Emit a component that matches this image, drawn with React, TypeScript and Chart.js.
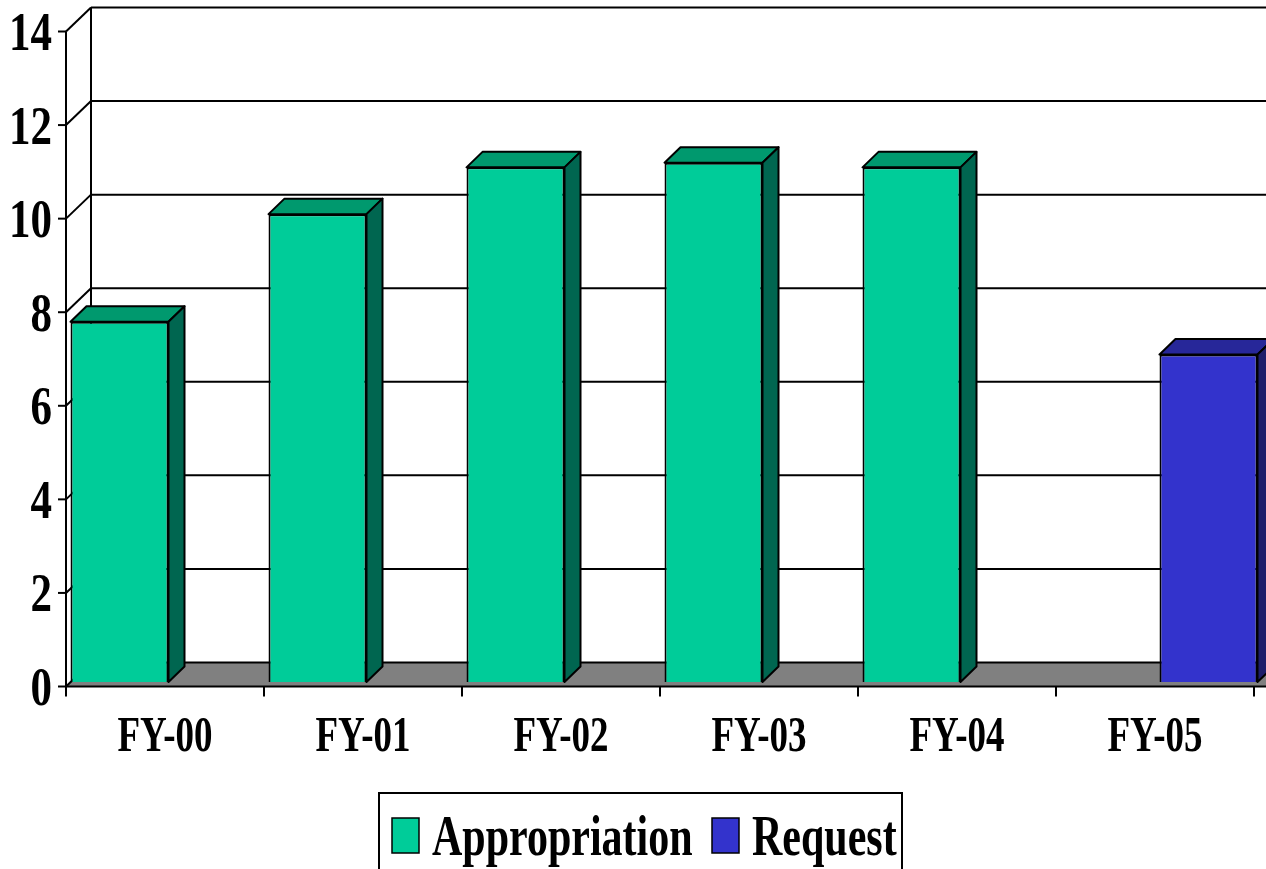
import React, { useEffect, useRef } from "react";
import { Chart, registerables } from "chart.js";

Chart.register(...registerables);

const categories = ["FY-00", "FY-01", "FY-02", "FY-03", "FY-04", "FY-05"];
const appropriation = [7.7, 10, 11, 11.1, 11, null];
const request = [null, null, null, null, null, 7];
const yTicks = [0, 2, 4, 6, 8, 10, 12, 14];

const FONT = '"Liberation Serif", "Times New Roman", serif';
const WALL_DX = 25;
const WALL_DY = -24;
const BAR_SHIFT_X = 4;
const BAR_SHIFT_Y = -4.5;
const BAR_DX = 16;
const BAR_DY = -15.5;

const faceColors: Record<number, { top: string; side: string }> = {
  0: { top: "#00996E", side: "#006650" },
  1: { top: "#272799", side: "#1E1E6A" },
};

function stretchText(ctx: CanvasRenderingContext2D, text: string, x: number, baseline: number, size: number, sy: number, align: CanvasTextAlign) {
  ctx.save();
  ctx.translate(x, baseline);
  ctx.scale(1, sy);
  ctx.font = `bold ${size}px ${FONT}`;
  ctx.textAlign = align;
  ctx.textBaseline = "alphabetic";
  ctx.fillStyle = "#000";
  ctx.fillText(text, 0, 0);
  ctx.restore();
}

const threeD = {
  id: "threeD",
  beforeDatasetsDraw(chart: any) {
    const ctx: CanvasRenderingContext2D = chart.ctx;
    const { left: L, right: R } = chart.chartArea;
    const ys = chart.scales.y;
    const y0 = ys.getPixelForValue(0);
    const yTop = ys.getPixelForValue(14);
    const W = chart.width;
    ctx.save();
    ctx.lineWidth = 2;
    ctx.strokeStyle = "#000";
    ctx.fillStyle = "#808080";
    ctx.beginPath();
    ctx.moveTo(L, y0);
    ctx.lineTo(R + 40, y0);
    ctx.lineTo(R + 40 + WALL_DX, y0 + WALL_DY);
    ctx.lineTo(L + WALL_DX, y0 + WALL_DY);
    ctx.closePath();
    ctx.fill();
    yTicks.forEach((v) => {
      const y = ys.getPixelForValue(v);
      ctx.beginPath();
      ctx.moveTo(L + WALL_DX, y + WALL_DY);
      ctx.lineTo(W + 5, y + WALL_DY);
      ctx.stroke();
      ctx.beginPath();
      ctx.moveTo(L, y);
      ctx.lineTo(L + WALL_DX, y + WALL_DY);
      ctx.stroke();
      ctx.beginPath();
      ctx.moveTo(L - 8, y);
      ctx.lineTo(L, y);
      ctx.stroke();
    });
    ctx.beginPath();
    ctx.moveTo(L + WALL_DX, yTop + WALL_DY);
    ctx.lineTo(L + WALL_DX, y0 + WALL_DY);
    ctx.stroke();
    ctx.beginPath();
    ctx.moveTo(L, yTop);
    ctx.lineTo(L, y0);
    ctx.lineTo(R + 20, y0);
    ctx.stroke();
    const xs = chart.scales.x;
    const step = xs.getPixelForTick(1) - xs.getPixelForTick(0);
    for (let i = 0; i <= categories.length; i++) {
      const x = i < categories.length ? xs.getPixelForTick(i) - step / 2 : R;
      ctx.beginPath();
      ctx.moveTo(x, y0);
      ctx.lineTo(x, y0 + 10);
      ctx.stroke();
    }
    ctx.restore();
    ctx.save();
    ctx.translate(BAR_SHIFT_X, BAR_SHIFT_Y);
  },
  afterDatasetsDraw(chart: any) {
    const ctx: CanvasRenderingContext2D = chart.ctx;
    ctx.lineWidth = 2;
    ctx.lineJoin = "round";
    ctx.strokeStyle = "#000";
    chart.data.datasets.forEach((ds: any, di: number) => {
      const meta = chart.getDatasetMeta(di);
      meta.data.forEach((bar: any, i: number) => {
        if (ds.data[i] == null) return;
        const { x, y, base, width } = bar.getProps(["x", "y", "base", "width"], true);
        const xl = x - width / 2;
        const xr = x + width / 2;
        ctx.fillStyle = faceColors[di].top;
        ctx.beginPath();
        ctx.moveTo(xl, y);
        ctx.lineTo(xr, y);
        ctx.lineTo(xr + BAR_DX, y + BAR_DY);
        ctx.lineTo(xl + BAR_DX, y + BAR_DY);
        ctx.closePath();
        ctx.fill();
        ctx.stroke();
        ctx.fillStyle = faceColors[di].side;
        ctx.beginPath();
        ctx.moveTo(xr, y);
        ctx.lineTo(xr + BAR_DX, y + BAR_DY);
        ctx.lineTo(xr + BAR_DX, base + BAR_DY);
        ctx.lineTo(xr, base);
        ctx.closePath();
        ctx.fill();
        ctx.stroke();
      });
    });
    ctx.restore();
  },
  afterDraw(chart: any) {
    const ctx: CanvasRenderingContext2D = chart.ctx;
    const ys = chart.scales.y;
    const xs = chart.scales.x;
    const L = chart.chartArea.left;
    const y0 = ys.getPixelForValue(0);
    yTicks.forEach((v) => {
      const y = ys.getPixelForValue(v);
      stretchText(ctx, String(v), L - 14, y + 18.5, 43, 1.28, "right");
    });
    categories.forEach((c, i) => {
      stretchText(ctx, c, xs.getPixelForTick(i), y0 + 64, 37, 1.36, "center");
    });
    ctx.save();
    ctx.lineWidth = 2;
    ctx.strokeStyle = "#000";
    ctx.strokeRect(379, 793, 523, 120);
    const items = [
      { label: chart.data.datasets[0].label, color: chart.data.datasets[0].backgroundColor, x: 392, tx: 432 },
      { label: chart.data.datasets[1].label, color: chart.data.datasets[1].backgroundColor, x: 712, tx: 752 },
    ];
    items.forEach((it) => {
      ctx.fillStyle = it.color;
      ctx.fillRect(it.x, 818, 27, 35);
      ctx.lineWidth = 1.5;
      ctx.strokeRect(it.x, 818, 27, 35);
      stretchText(ctx, it.label, it.tx, 855, 42, 1.36, "left");
    });
    ctx.restore();
  },
};

export default function App() {
  const ref = useRef<HTMLCanvasElement>(null);
  useEffect(() => {
    const chart = new Chart(ref.current!, {
      type: "bar",
      data: {
        labels: categories,
        datasets: [
          { label: "Appropriation", data: appropriation, backgroundColor: "#00CC99", borderColor: "#000", borderWidth: 2 },
          { label: "Request", data: request, backgroundColor: "#3333CC", borderColor: "#000", borderWidth: 2 },
        ],
      },
      options: {
        animation: false,
        responsive: false,
        maintainAspectRatio: false,
        categoryPercentage: 1,
        barPercentage: 0.99,
        layout: { padding: { left: 66, right: 12, top: 31.5, bottom: 182.5 } },
        plugins: { legend: { display: false }, tooltip: { enabled: false } },
        scales: {
          x: { display: false, grid: { display: false } },
          y: { display: false, min: 0, max: 14, ticks: { stepSize: 2 } },
        },
      } as any,
      plugins: [threeD],
    });
    return () => chart.destroy();
  }, []);
  return (
    <div style={{ position: "fixed", left: 0, top: 0, width: 1266, height: 869, background: "#fff" }}>
      <canvas ref={ref} width={1266} height={869} style={{ width: 1266, height: 869, display: "block" }} />
    </div>
  );
}
